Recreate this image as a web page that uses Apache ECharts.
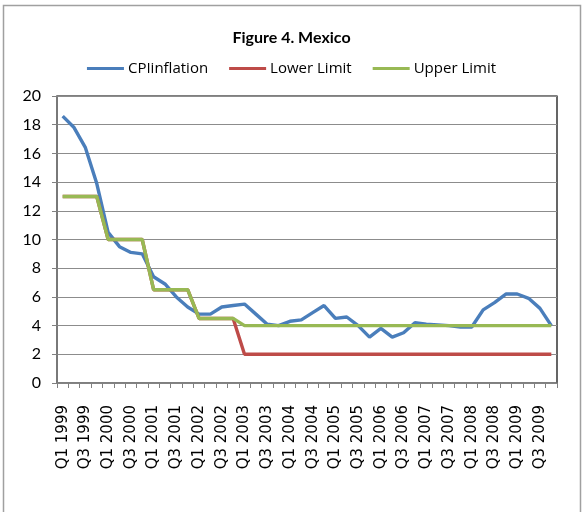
<!DOCTYPE html>
<html>
<head>
<meta charset="utf-8">
<script src="https://cdn.jsdelivr.net/npm/echarts@6/dist/echarts.min.js"></script>
<style>html,body{margin:0;padding:0;background:#fff}#c{width:583px;height:512px}</style>
</head>
<body>
<div id="c"></div>
<script>
var quarters = [];
var years = [1999,2000,2001,2002,2003,2004,2005,2006,2007,2008,2009];
years.forEach(function(y){ for (var q=1;q<=4;q++) quarters.push('Q'+q+' '+y); });

var cpiInflation = [18.6,17.8,16.4,13.9,10.5,9.5,9.1,9.0,7.4,6.9,6.0,5.3,4.8,4.8,5.3,5.4,
  5.5,4.8,4.1,4.0,4.3,4.4,4.9,5.4,4.5,4.6,4.0,3.2,3.8,3.2,3.5,4.2,
  4.1,4.05,4.0,3.9,3.9,5.1,5.6,6.2,6.2,5.9,5.2,4.0];
var lowerLimit = [13,13,13,13,10,10,10,10,6.5,6.5,6.5,6.5,4.5,4.5,4.5,4.5,
  2,2,2,2,2,2,2,2,2,2,2,2,2,2,2,2,2,2,2,2,2,2,2,2,2,2,2,2];
var upperLimit = [13,13,13,13,10,10,10,10,6.5,6.5,6.5,6.5,4.5,4.5,4.5,4.5,
  4,4,4,4,4,4,4,4,4,4,4,4,4,4,4,4,4,4,4,4,4,4,4,4,4,4,4,4];

var chart = echarts.init(document.getElementById('c'));
var font = 'Lato';
chart.setOption({
  animation: false,
  backgroundColor: '#fff',
  graphic: [{
    type: 'rect', shape: {x: 3.5, y: 5.5, width: 577, height: 520},
    style: {fill: 'none', stroke: '#a0a0a0', lineWidth: 1.5}, silent: true, z: -1
  }],
  title: {
    text: 'Figure 4. Mexico', left: 'center', top: 25,
    textStyle: {fontFamily: font, fontWeight: 'bold', fontSize: 16, color: '#000'}
  },
  legend: {
    top: 56, left: 'center', itemWidth: 37, itemHeight: 3, itemGap: 21,
    icon: 'rect',
    textStyle: {fontFamily: 'Open Sans', fontSize: 15, color: '#000', padding: [0,0,0,-1]},
    data: ['CPIinflation','Lower Limit','Upper Limit']
  },
  grid: {left: 57, top: 96, right: 26, bottom: 129, show: true, borderColor: '#000', borderWidth: 1.2},
  xAxis: {
    type: 'category', data: quarters, boundaryGap: true,
    axisLine: {lineStyle: {color: '#808080', width: 1.5}},
    axisTick: {show: true, interval: 0, length: 5, lineStyle: {color: '#808080'}},
    axisLabel: {interval: 1, rotate: 90, margin: 22, fontFamily: 'DejaVu Sans', fontSize: 15, color: '#000'}
  },
  yAxis: {
    type: 'value', min: 0, max: 20, interval: 2,
    axisLine: {show: true, lineStyle: {color: '#808080', width: 1.5}},
    axisTick: {show: true, length: 5, lineStyle: {color: '#808080'}},
    axisLabel: {fontFamily: font, fontSize: 16, color: '#000', margin: 16},
    splitLine: {lineStyle: {color: '#8c8c8c', width: 1}}
  },
  series: [
    {name: 'CPIinflation', type: 'line', data: cpiInflation, symbol: 'none',
     lineStyle: {color: '#4a7ebb', width: 3.4}, itemStyle: {color: '#4a7ebb'}},
    {name: 'Lower Limit', type: 'line', data: lowerLimit, symbol: 'none',
     lineStyle: {color: '#be4b48', width: 3.4}, itemStyle: {color: '#be4b48'}},
    {name: 'Upper Limit', type: 'line', data: upperLimit, symbol: 'none',
     lineStyle: {color: '#98b954', width: 3.4}, itemStyle: {color: '#98b954'}}
  ]
});
</script>
</body>
</html>
